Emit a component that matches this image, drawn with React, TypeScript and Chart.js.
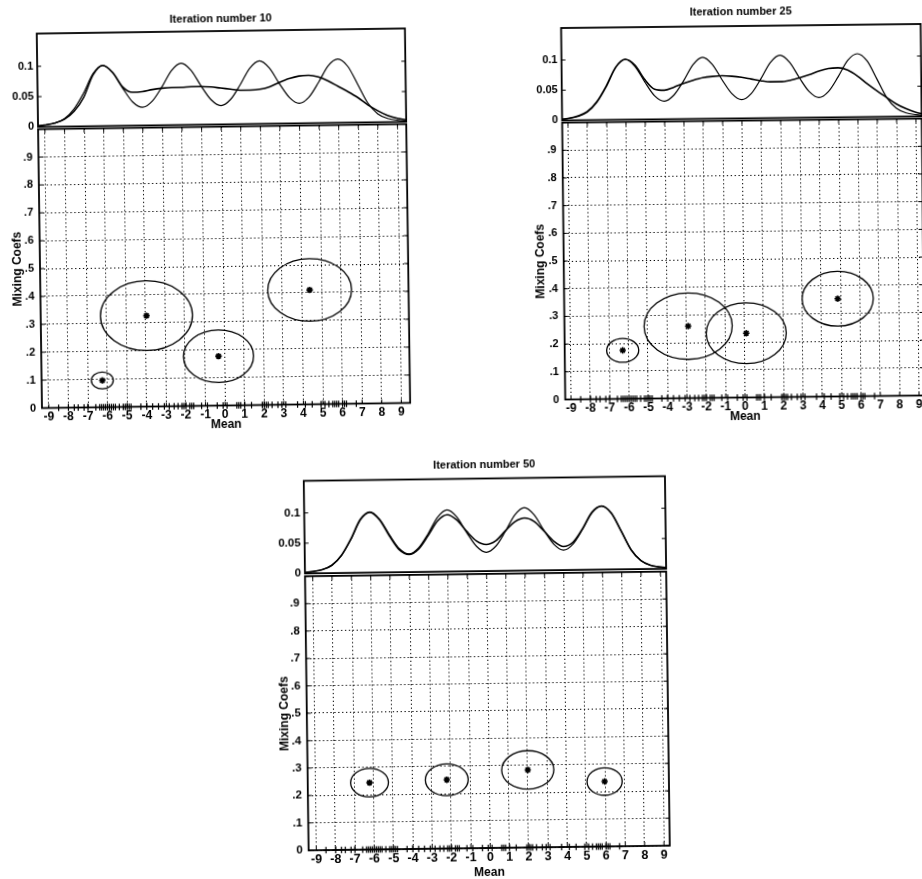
import { useEffect, useRef } from 'react';
import { Chart, registerables } from 'chart.js';

Chart.register(...registerables);

// ---------------- data ----------------
const densityX = [
  -9.5, -9, -8.5, -8, -7.5, -7, -6.5, -6, -5.5, -5, -4.5, -4, -3.5, -3, -2.5, -2, -1.5, -1, -0.5, 0,
  0.5, 1, 1.5, 2, 2.5, 3, 3.5, 4, 4.5, 5, 5.5, 6, 6.5, 7, 7.5, 8, 8.5, 9, 9.5,
];

// true (data) density, same in every panel
const trueDensity = [
  0.001, 0.003, 0.006, 0.013, 0.029, 0.055, 0.087, 0.1, 0.088, 0.062,
  0.039, 0.03, 0.04, 0.063, 0.09, 0.102, 0.09, 0.064, 0.041, 0.031,
  0.041, 0.065, 0.092, 0.104, 0.092, 0.066, 0.043, 0.033, 0.043, 0.067,
  0.094, 0.105, 0.093, 0.063, 0.032, 0.014, 0.006, 0.003, 0.001,
];

// model density after 10, 25 and 50 iterations
const estDensity10 = [
  0.001, 0.003, 0.006, 0.012, 0.025, 0.048, 0.085, 0.1, 0.088, 0.064,
  0.055, 0.056, 0.059, 0.061, 0.062, 0.062, 0.063, 0.063, 0.062, 0.06,
  0.058, 0.056, 0.056, 0.057, 0.061, 0.068, 0.074, 0.078, 0.079, 0.076,
  0.069, 0.06, 0.051, 0.041, 0.029, 0.019, 0.011, 0.006, 0.003,
];
const estDensity25 = [
  0.001, 0.003, 0.007, 0.014, 0.03, 0.056, 0.087, 0.1, 0.09, 0.066,
  0.05, 0.048, 0.053, 0.059, 0.064, 0.068, 0.07, 0.071, 0.07, 0.068,
  0.065, 0.062, 0.06, 0.06, 0.062, 0.066, 0.071, 0.077, 0.081, 0.082,
  0.078, 0.068, 0.055, 0.043, 0.032, 0.021, 0.013, 0.007, 0.003,
];
const estDensity50 = [
  0.001, 0.003, 0.006, 0.013, 0.029, 0.056, 0.088, 0.1, 0.087, 0.06,
  0.037, 0.029, 0.038, 0.06, 0.084, 0.094, 0.085, 0.066, 0.05, 0.044,
  0.05, 0.066, 0.081, 0.087, 0.081, 0.065, 0.048, 0.039, 0.046, 0.068,
  0.095, 0.105, 0.093, 0.063, 0.032, 0.014, 0.006, 0.003, 0.001,
];

// data samples plotted as '+' on the Mean axis
const sampleX = [
  -8.5, -8.0, -7.7, -7.5, -7.2, -7.0, -6.6, -6.4, -6.3, -6.2, -6.1, -6.0, -5.9, -5.8, -5.7, -5.6,
  -5.4, -5.2, -5.1, -5.0, -4.9, -4.8, -4.3, -4.0, -3.7, -3.4, -3.1, -2.85, -2.6, -2.4, -2.2, -2.1,
  -2.0, -1.8, -1.7, -1.6, -1.2, -0.9, -0.4, -0.1, 0.1, 0.6, 0.7, 0.8, 1.0, 1.35, 1.9, 2.0, 2.1,
  2.2, 2.4, 2.7, 2.9, 3.1, 3.7, 4.1, 4.45, 4.9, 5.1, 5.3, 5.5, 5.6, 5.7, 5.8, 6.0, 6.1, 6.2, 6.7,
];

// component means, mixing coefficients and ellipse half-widths
const means10 = [-6.25, -3.95, -0.3, 4.4];
const coefs10 = [0.096, 0.326, 0.177, 0.41];
const spreadX10 = [0.56, 2.35, 1.79, 2.14];
const spreadY10 = [0.03, 0.125, 0.094, 0.112];

const means25 = [-6.3, -2.9, 0.1, 4.85];
const coefs25 = [0.175, 0.26, 0.232, 0.353];
const spreadX25 = [0.83, 2.28, 2.07, 1.84];
const spreadY25 = [0.043, 0.12, 0.11, 0.099];

const means50 = [-6.2, -2.2, 2.0, 5.97];
const coefs50 = [0.244, 0.251, 0.283, 0.237];
const spreadX50 = [0.98, 1.11, 1.35, 0.91];
const spreadY50 = [0.052, 0.058, 0.07, 0.05];

const titles = ['Iteration number 10', 'Iteration number 25', 'Iteration number 50'];

const xTickValues = [-9, -8, -7, -6, -5, -4, -3, -2, -1, 0, 1, 2, 3, 4, 5, 6, 7, 8, 9];
const xTickLabels = ['-9', '-8', '-7', '-6', '-5', '-4', '-3', '-2', '-1', '0', '1', '2', '3', '4', '5', '6', '7', '8', '9'];
const coefTickValues = [0, 0.1, 0.2, 0.3, 0.4, 0.5, 0.6, 0.7, 0.8, 0.9, 1];
const coefTickLabels = ['0', '.1', '.2', '.3', '.4', '.5', '.6', '.7', '.8', '.9', ''];
const densityTickValues = [0, 0.05, 0.1];
const densityTickLabels = ['0', '0.05', '0.1'];

const panelData = [
  { est: estDensity10, means: means10, coefs: coefs10, sx: spreadX10, sy: spreadY10 },
  { est: estDensity25, means: means25, coefs: coefs25, sx: spreadX25, sy: spreadY25 },
  { est: estDensity50, means: means50, coefs: coefs50, sx: spreadX50, sy: spreadY50 },
];

// ---------------- layout (page pixels, unrotated frame) ----------------
const LAYOUTS = [
  { L: 40, R: 408.2, T: 31, M: 124.5, B: 405.5, xMin: -9.35, xMax: 9.45, topMax: 0.154, titleY: 18.5, ylabX: 17.7, xlabY: 425, rot: -0.8, cx: 224, cy: 265, tick: 11, xtick: 12 },
  { L: 563.7, R: 923.3, T: 26, M: 118.7, B: 397.5, xMin: -9.3, xMax: 9.3, topMax: 0.153, titleY: 12, ylabX: 541, xlabY: 417, rot: -0.64, cx: 743, cy: 260, tick: 11, xtick: 12 },
  { L: 306.8, R: 668, T: 478.5, M: 571.7, B: 848, xMin: -9.4, xMax: 9.3, topMax: 0.153, titleY: 465, ylabX: 285, xlabY: 873, rot: -0.75, cx: 487, cy: 712, tick: 11.5, xtick: 12.5 },
];

const FAMILY = '"Liberation Sans", Arial, Helvetica, sans-serif';
const INK = '#000';

function framePlugin(withX: boolean) {
  return {
    id: 'frame',
    afterDatasetsDraw(chart: any) {
      const { ctx, chartArea: a, scales } = chart;
      ctx.save();
      ctx.strokeStyle = INK;
      ctx.lineWidth = 1;
      const len = 4;
      const seg = (x1: number, y1: number, x2: number, y2: number) => {
        ctx.beginPath();
        ctx.moveTo(x1, y1);
        ctx.lineTo(x2, y2);
        ctx.stroke();
      };
      if (withX) {
        for (const t of scales.x.ticks) {
          const px = scales.x.getPixelForValue(t.value);
          seg(px, a.bottom, px, a.bottom - len);
          seg(px, a.top, px, a.top + len);
        }
      }
      for (const t of scales.y.ticks) {
        const py = scales.y.getPixelForValue(t.value);
        seg(a.left, py, a.left + len, py);
        seg(a.right, py, a.right - len, py);
      }
      ctx.lineWidth = 1.8;
      ctx.strokeRect(a.left, a.top, a.right - a.left, a.bottom - a.top);
      ctx.restore();
    },
  };
}

function ellipsePlugin(mx: number[], my: number[], rx: number[], ry: number[]) {
  return {
    id: 'ellipses',
    afterDatasetsDraw(chart: any) {
      const { ctx } = chart;
      const x = chart.scales.x;
      const y = chart.scales.y;
      ctx.save();
      ctx.strokeStyle = INK;
      ctx.lineWidth = 1.3;
      mx.forEach((m, i) => {
        const px = x.getPixelForValue(m);
        const py = y.getPixelForValue(my[i]);
        const rpx = Math.abs(x.getPixelForValue(m + rx[i]) - px);
        const rpy = Math.abs(y.getPixelForValue(my[i] + ry[i]) - py);
        ctx.beginPath();
        ctx.ellipse(px, py, rpx, rpy, 0, 0, Math.PI * 2);
        ctx.stroke();
      });
      ctx.restore();
    },
  };
}

function topGeom(i: number) {
  const l = LAYOUTS[i];
  const left = Math.floor(l.L - 40);
  const top = Math.floor(l.titleY - 10);
  const width = Math.ceil(l.R - left + 6);
  const height = Math.ceil(l.M + 10 - top);
  return { left, top, width, height };
}

function bottomGeom(i: number) {
  const l = LAYOUTS[i];
  const left = Math.floor(l.ylabX - 12);
  const top = Math.floor(l.M - 10);
  const width = Math.ceil(l.R - left + 6);
  const height = Math.ceil(l.xlabY + 10 - top);
  return { left, top, width, height };
}

function topConfig(i: number): any {
  const l = LAYOUTS[i];
  const g = topGeom(i);
  const d = panelData[i];
  const yw = l.L - g.left;
  const xh = l.T - g.top;
  const padRight = g.width - (l.R - g.left);
  const padBottom = g.height - (l.M - g.top);
  const titleSize = 11;
  return {
    type: 'line',
    data: {
      datasets: [
        {
          data: densityX.map((x, k) => ({ x, y: trueDensity[k] })),
          borderColor: INK,
          borderWidth: 1.2,
          pointRadius: 0,
          cubicInterpolationMode: 'monotone',
          fill: false,
        },
        {
          data: densityX.map((x, k) => ({ x, y: d.est[k] })),
          borderColor: INK,
          borderWidth: 1.6,
          pointRadius: 0,
          cubicInterpolationMode: 'monotone',
          fill: false,
        },
      ],
    },
    options: {
      animation: false,
      responsive: false,
      events: [],
      layout: { padding: { left: 0, top: 0, right: padRight, bottom: padBottom } },
      plugins: { legend: { display: false }, tooltip: { enabled: false } },
      scales: {
        x: {
          type: 'linear',
          position: 'top',
          min: l.xMin,
          max: l.xMax,
          ticks: { display: false },
          grid: { display: false, drawTicks: false },
          border: { display: false },
          title: {
            display: true,
            text: titles[i],
            color: INK,
            font: { family: FAMILY, size: titleSize, weight: 'bold' },
            padding: { top: l.titleY - g.top - (titleSize * 1.2) / 2, bottom: 0 },
          },
          afterFit: (s: any) => {
            s.height = xh;
          },
        },
        y: {
          type: 'linear',
          min: 0,
          max: l.topMax,
          afterBuildTicks: (s: any) => {
            s.ticks = densityTickValues.map((v) => ({ value: v }));
          },
          ticks: {
            callback: (_v: any, k: number) => densityTickLabels[k],
            color: INK,
            font: { family: FAMILY, size: l.tick, weight: 'bold' },
            padding: 4,
          },
          grid: { display: false, drawTicks: false },
          border: { display: false },
          afterFit: (s: any) => {
            s.width = yw;
          },
        },
      },
    },
    plugins: [framePlugin(false)],
  };
}

function bottomConfig(i: number): any {
  const l = LAYOUTS[i];
  const g = bottomGeom(i);
  const d = panelData[i];
  const yw = l.L - g.left;
  const xh = g.height - (l.B - g.top);
  const padRight = g.width - (l.R - g.left);
  const padTop = l.M - g.top;
  const labSize = 12;
  const lh = labSize * 1.2;
  const dash = [1.3, 2.6];
  return {
    type: 'scatter',
    data: {
      datasets: [
        {
          data: d.means.map((m, k) => ({ x: m, y: d.coefs[k] })),
          pointStyle: 'star',
          pointRadius: 3.2,
          borderWidth: 1.6,
          borderColor: INK,
          backgroundColor: INK,
        },
        {
          data: sampleX.map((x) => ({ x, y: 0 })),
          pointStyle: 'cross',
          pointRadius: 3.2,
          borderWidth: 1.2,
          borderColor: INK,
          backgroundColor: INK,
          clip: false,
        },
      ],
    },
    options: {
      animation: false,
      responsive: false,
      events: [],
      layout: { padding: { left: 0, top: padTop, right: padRight, bottom: 0 } },
      plugins: { legend: { display: false }, tooltip: { enabled: false } },
      scales: {
        x: {
          type: 'linear',
          position: 'bottom',
          min: l.xMin,
          max: l.xMax,
          afterBuildTicks: (s: any) => {
            s.ticks = xTickValues.map((v) => ({ value: v }));
          },
          ticks: {
            callback: (_v: any, k: number) => xTickLabels[k],
            color: INK,
            font: { family: FAMILY, size: l.xtick, weight: 'bold' },
            padding: 2,
            maxRotation: 0,
            minRotation: 0,
            autoSkip: false,
          },
          grid: { display: true, drawTicks: false, color: INK, lineWidth: 1 },
          border: { display: false, dash },
          title: {
            display: true,
            text: 'Mean',
            color: INK,
            font: { family: FAMILY, size: labSize, weight: 'bold' },
            padding: { top: 0, bottom: g.top + g.height - l.xlabY - lh / 2 },
          },
          afterFit: (s: any) => {
            s.height = xh;
          },
        },
        y: {
          type: 'linear',
          min: 0,
          max: 1,
          afterBuildTicks: (s: any) => {
            s.ticks = coefTickValues.map((v) => ({ value: v }));
          },
          ticks: {
            callback: (_v: any, k: number) => coefTickLabels[k],
            color: INK,
            font: { family: FAMILY, size: l.tick, weight: 'bold' },
            padding: 6,
          },
          grid: { display: true, drawTicks: false, color: INK, lineWidth: 1 },
          border: { display: false, dash },
          title: {
            display: true,
            text: 'Mixing Coefs',
            color: INK,
            font: { family: FAMILY, size: labSize, weight: 'bold' },
            padding: { top: l.ylabX - g.left - lh / 2, bottom: 0 },
          },
          afterFit: (s: any) => {
            s.width = yw;
          },
        },
      },
    },
    plugins: [ellipsePlugin(d.means, d.coefs, d.sx, d.sy), framePlugin(true)],
  };
}

function Panel({ index }: { index: number }) {
  const topRef = useRef<HTMLCanvasElement>(null);
  const botRef = useRef<HTMLCanvasElement>(null);
  const l = LAYOUTS[index];
  const tg = topGeom(index);
  const bg = bottomGeom(index);

  useEffect(() => {
    const top = new Chart(topRef.current as HTMLCanvasElement, topConfig(index));
    const bot = new Chart(botRef.current as HTMLCanvasElement, bottomConfig(index));
    return () => {
      top.destroy();
      bot.destroy();
    };
  }, [index]);

  return (
    <div
      style={{
        position: 'absolute',
        left: 0,
        top: 0,
        width: 922,
        height: 879,
        transform: `rotate(${l.rot}deg)`,
        transformOrigin: `${l.cx}px ${l.cy}px`,
      }}
    >
      <canvas
        ref={botRef}
        width={bg.width}
        height={bg.height}
        style={{ position: 'absolute', left: bg.left, top: bg.top, width: bg.width, height: bg.height }}
      />
      <canvas
        ref={topRef}
        width={tg.width}
        height={tg.height}
        style={{ position: 'absolute', left: tg.left, top: tg.top, width: tg.width, height: tg.height }}
      />
    </div>
  );
}

export default function App() {
  return (
    <div
      style={{
        position: 'fixed',
        left: 0,
        top: 0,
        width: 922,
        height: 879,
        overflow: 'hidden',
        background: '#fff',
      }}
    >
      <Panel index={0} />
      <Panel index={1} />
      <Panel index={2} />
    </div>
  );
}
